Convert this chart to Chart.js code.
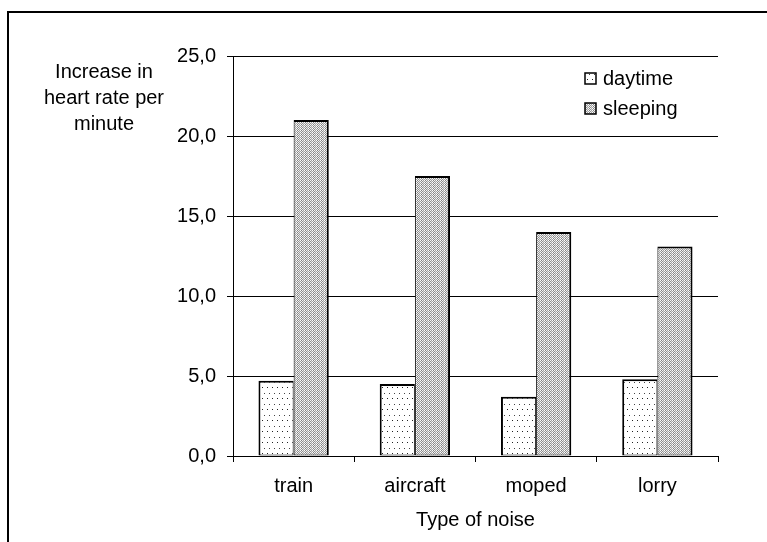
<!DOCTYPE html>
<html>
<head>
<meta charset="utf-8">
<title>Increase in heart rate by type of noise</title>
<script src="https://cdn.jsdelivr.net/npm/chart.js@4/dist/chart.umd.min.js"></script>
<style>
  html, body { margin: 0; padding: 0; background: #fff; overflow: hidden; }
  #wrap { position: relative; width: 767px; height: 542px; }
</style>
</head>
<body>
<div id="wrap"><canvas id="chart"></canvas></div>
<script>
// Data
const categories = ['train', 'aircraft', 'moped', 'lorry'];
const seriesNames = ['daytime', 'sleeping'];
const daytime = [4.7, 4.5, 3.7, 4.8];
const sleeping = [21.0, 17.5, 14.0, 13.1];
const yTickLabels = ['0,0', '5,0', '10,0', '15,0', '20,0', '25,0'];
const yTitleLines = ['Increase in', 'heart rate per', 'minute'];
const xTitle = 'Type of noise';

const FONT = "'Liberation Sans', Arial, sans-serif";

// Fill patterns: light dotted and dense grey stipple
function makePattern(w, h, paint) {
  const c = document.createElement('canvas');
  c.width = w; c.height = h;
  const g = c.getContext('2d');
  g.fillStyle = '#fff';
  g.fillRect(0, 0, w, h);
  paint(g);
  return g.createPattern(c, 'repeat');
}
const ctx = document.getElementById('chart').getContext('2d');
const dottedFill = makePattern(10, 11, g => {
  g.fillStyle = '#222';
  g.fillRect(2, 2, 1, 1);
  g.fillRect(7, 2, 1, 1);
  g.fillStyle = '#444';
  g.fillRect(4, 8, 1, 1);
  g.fillRect(9, 8, 1, 1);
});
const stippleFill = makePattern(4, 2, g => {
  const px = [['#fff', '#808080', '#f4f4f4', '#a0a0a0'], ['#a4a4a4', '#eee', '#909090', '#e0e0e0']];
  for (let y = 0; y < 2; y++) for (let x = 0; x < 4; x++) {
    g.fillStyle = px[y][x];
    g.fillRect(x, y, 1, 1);
  }
});
const fills = [dottedFill, stippleFill];

// Outer frame, y-axis caption and in-plot legend
const decorations = {
  id: 'decorations',
  beforeDraw(chart) {
    const c = chart.ctx;
    c.save();
    c.fillStyle = '#fff';
    c.fillRect(0, 0, chart.width, chart.height);
    c.fillStyle = '#000';
    c.fillRect(7, 11, 2, chart.height);
    c.fillRect(7, 11, chart.width, 2);
    c.restore();
  },
  afterDraw(chart) {
    const c = chart.ctx;
    c.save();
    c.fillStyle = '#000';
    c.font = '20px ' + FONT;
    c.textAlign = 'center';
    c.textBaseline = 'middle';
    yTitleLines.forEach((line, i) => c.fillText(line, 104, 72 + i * 26));

    // legend
    const area = chart.chartArea;
    const boxX = area.right - 133;
    c.textAlign = 'left';
    c.textBaseline = 'alphabetic';
    seriesNames.forEach((name, i) => {
      const baseY = 85 + i * 30;
      c.fillStyle = fills[i];
      c.fillRect(boxX, baseY - 12, 11, 11);
      c.strokeStyle = '#000';
      c.lineWidth = 1.5;
      c.strokeRect(boxX, baseY - 12, 11, 11);
      c.fillStyle = '#000';
      c.fillText(name, boxX + 18, baseY);
    });
    c.restore();
  }
};

new Chart(ctx, {
  type: 'bar',
  data: {
    labels: categories,
    datasets: [
      {
        label: seriesNames[0],
        data: daytime,
        backgroundColor: dottedFill,
        borderColor: '#000',
        borderWidth: { left: 2, top: 2, right: 1, bottom: 1 },
        borderSkipped: false
      },
      {
        label: seriesNames[1],
        data: sleeping,
        backgroundColor: stippleFill,
        borderColor: '#000',
        borderWidth: { left: 1, top: 2, right: 2, bottom: 1 },
        borderSkipped: false
      }
    ]
  },
  options: {
    responsive: true,
    maintainAspectRatio: false,
    animation: false,
    events: [],
    layout: { padding: { left: 0, top: 56, right: 49, bottom: 0 } },
    datasets: { bar: { categoryPercentage: 0.58, barPercentage: 1.0 } },
    plugins: { legend: { display: false }, tooltip: { enabled: false } },
    scales: {
      x: {
        afterFit(scale) { scale.height = 86; },
        grid: {
          offset: true,
          drawOnChartArea: true,
          color: c => (c.index === categories.length ? '#000' : 'rgba(0,0,0,0)'),
          tickColor: '#000',
          tickLength: 6,
          lineWidth: 1
        },
        border: { display: true, color: '#000', width: 1 },
        ticks: { color: '#000', font: { family: FONT, size: 20 }, padding: 12, maxRotation: 0 },
        title: {
          display: true,
          text: xTitle,
          color: '#000',
          font: { family: FONT, size: 20 },
          padding: { top: 0, bottom: 10 }
        }
      },
      y: {
        min: 0,
        max: 25,
        afterFit(scale) { scale.width = 233; },
        grid: { color: '#000', tickColor: '#000', tickLength: 6, lineWidth: 1 },
        border: { display: true, color: '#000', width: 1 },
        ticks: {
          stepSize: 5,
          color: '#000',
          padding: 11,
          font: { family: FONT, size: 20 },
          callback: (value, index) => yTickLabels[index]
        }
      }
    }
  },
  plugins: [decorations]
});
</script>
</body>
</html>
